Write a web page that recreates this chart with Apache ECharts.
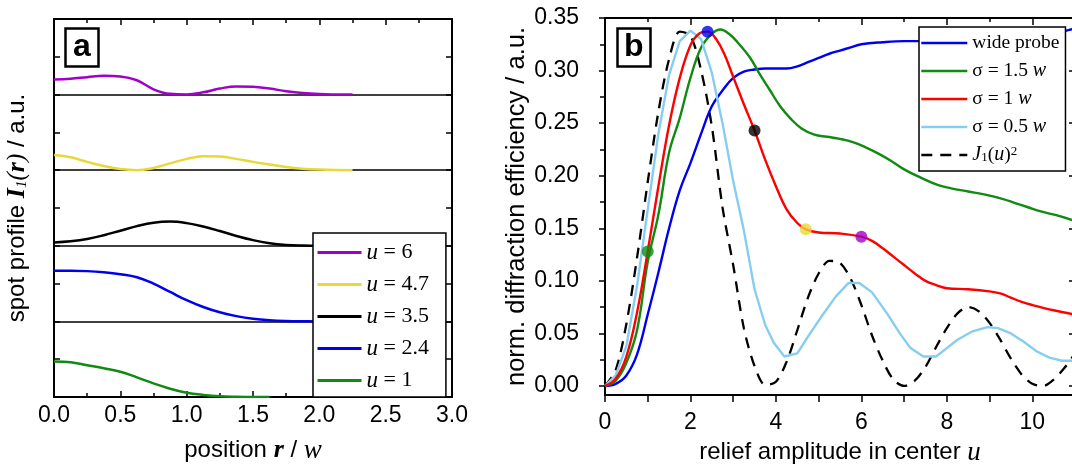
<!DOCTYPE html>
<html lang="en">
<head>
<meta charset="UTF-8">
<title>spot profile and diffraction efficiency</title>
<script src="https://cdn.jsdelivr.net/npm/echarts@6/dist/echarts.min.js"></script>
<style>
    html, body { margin: 0; padding: 0; background: #fff; }
    #chart { width: 1072px; height: 470px; }
</style>
</head>
<body>
<div id="chart"></div>
<script>
// ---- panel a : spot profiles, one band per relief amplitude ----
var rPos = [0, 0.125, 0.25, 0.375, 0.5, 0.625, 0.75, 0.875, 1, 1.125, 1.25, 1.375, 1.5,
            1.625, 1.75, 1.875, 2, 2.125, 2.25, 2.375, 2.5, 2.625, 2.75, 2.875, 3];
var profU1  = [0.47, 0.46, 0.42, 0.38, 0.335, 0.26, 0.18, 0.11, 0.057, 0.028, 0.01, 0.003, 0, 0];
var profU24 = [0.67, 0.67, 0.665, 0.65, 0.625, 0.585, 0.5, 0.39, 0.28, 0.19, 0.12, 0.07, 0.035, 0.015, 0.005, 0.001, 0];
var profU35 = [0.045, 0.06, 0.09, 0.14, 0.2, 0.26, 0.305, 0.32, 0.3, 0.255, 0.195, 0.13, 0.075, 0.035, 0.012, 0.003, 0];
var profU47 = [0.2, 0.17, 0.11, 0.055, 0.015, 0, 0.03, 0.09, 0.15, 0.185, 0.18, 0.15, 0.11, 0.075, 0.042, 0.02, 0.008, 0.002, 0];
var profU6  = [0.2, 0.21, 0.23, 0.248, 0.24, 0.19, 0.07, 0.01, 0.002, 0.03, 0.08, 0.108, 0.105, 0.08, 0.045, 0.02, 0.007, 0.002, 0];
var bandNames  = ['u = 6', 'u = 4.7', 'u = 3.5', 'u = 2.4', 'u = 1'];
var bandColors = ['#a000c8', '#e8d83a', '#000000', '#0000f0', '#108a10'];

// ---- panel b : diffraction efficiency vs relief amplitude ----
var uWide = [0, 0.25, 0.5, 0.75, 1, 1.25, 1.5, 1.75, 2, 2.25, 2.5, 2.75, 3, 3.25, 3.5, 3.75, 4, 4.25,
             4.5, 4.75, 5, 5.25, 5.5, 5.75, 6, 6.5, 7, 7.5, 8, 8.5, 9, 9.5, 10, 10.4, 10.8, 11];
var vWide = [0, 0.002, 0.01, 0.03, 0.068, 0.108, 0.15, 0.186, 0.212, 0.24, 0.266, 0.281, 0.293, 0.299,
             0.301, 0.302, 0.302, 0.302, 0.304, 0.308, 0.312, 0.316, 0.319, 0.322, 0.325, 0.327, 0.328,
             0.328, 0.328, 0.328, 0.328, 0.329, 0.331, 0.334, 0.338, 0.34];

var uS15 = [0, 0.25, 0.5, 0.75, 1, 1.25, 1.5, 1.75, 2, 2.25, 2.5, 2.7, 2.9, 3.1, 3.4, 3.6, 3.85, 4.1,
            4.35, 4.6, 4.9, 5.2, 5.5, 5.8, 6.1, 6.4, 6.7, 7, 7.4, 7.8, 8.1, 8.5, 8.9, 9.3, 9.6, 9.9, 10.2, 10.6, 11];
var vS15 = [0, 0.005, 0.022, 0.053, 0.118, 0.163, 0.222, 0.255, 0.293, 0.322, 0.335, 0.339, 0.335, 0.327,
            0.312, 0.298, 0.282, 0.266, 0.254, 0.245, 0.239, 0.237, 0.235, 0.232, 0.227, 0.221, 0.214,
            0.206, 0.198, 0.191, 0.188, 0.185, 0.182, 0.178, 0.174, 0.17, 0.166, 0.162, 0.157];

var uS1 = [0, 0.25, 0.5, 0.75, 1, 1.25, 1.5, 1.75, 2, 2.2, 2.4, 2.6, 2.8, 3, 3.25, 3.5, 3.75, 4, 4.25,
           4.5, 4.7, 5, 5.5, 6, 6.25, 6.5, 6.75, 7, 7.25, 7.5, 7.75, 8, 8.5, 9, 9.25, 9.5, 9.75, 10, 10.5, 11];
var vS1 = [0, 0.007, 0.028, 0.07, 0.128, 0.19, 0.248, 0.293, 0.324, 0.335, 0.337, 0.33, 0.315, 0.294,
           0.268, 0.243, 0.215, 0.19, 0.168, 0.155, 0.149, 0.146, 0.145, 0.142, 0.138, 0.131, 0.123,
           0.115, 0.107, 0.1, 0.096, 0.093, 0.092, 0.09, 0.088, 0.084, 0.08, 0.077, 0.072, 0.068];

var uS05 = [0, 0.25, 0.5, 0.75, 1, 1.25, 1.5, 1.75, 2, 2.25, 2.5, 2.75, 3, 3.25, 3.5, 3.75, 3.95, 4.2,
            4.5, 4.8, 5.1, 5.4, 5.7, 5.95, 6.25, 6.6, 6.9, 7.15, 7.45, 7.75, 8, 8.25, 8.6, 8.95, 9.2,
            9.5, 9.8, 10.1, 10.4, 10.7, 11];
var vS05 = [0, 0.01, 0.038, 0.095, 0.168, 0.24, 0.296, 0.328, 0.338, 0.33, 0.298, 0.25, 0.195, 0.148,
            0.092, 0.058, 0.041, 0.028, 0.031, 0.05, 0.068, 0.085, 0.098, 0.098, 0.089, 0.069, 0.05,
            0.036, 0.028, 0.028, 0.036, 0.044, 0.052, 0.056, 0.055, 0.05, 0.042, 0.033, 0.027, 0.024, 0.024];

var uJ = [0, 0.25, 0.5, 0.75, 1, 1.25, 1.5, 1.75, 2, 2.25, 2.5, 2.75, 3, 3.25, 3.5, 3.75, 4, 4.25, 4.5,
          4.75, 5, 5.25, 5.5, 5.75, 6, 6.25, 6.5, 6.75, 7, 7.25, 7.5, 7.75, 8, 8.25, 8.5, 8.75, 9, 9.25,
          9.5, 9.75, 10, 10.25, 10.5, 10.75, 11];
var vJ = [0, 0.015, 0.059, 0.122, 0.194, 0.261, 0.311, 0.337, 0.333, 0.3, 0.247, 0.17, 0.115, 0.055,
          0.019, 0.001, 0.004, 0.023, 0.053, 0.084, 0.107, 0.119, 0.117, 0.102, 0.077, 0.048, 0.024,
          0.006, 0, 0.005, 0.018, 0.037, 0.055, 0.069, 0.075, 0.071, 0.06, 0.044, 0.026, 0.011, 0.002,
          0, 0.006, 0.017, 0.031];

// dots on the sigma = 1 w curve (same u as panel a)
var uMark = [1, 2.4, 3.5, 4.7, 6];
var vMark = [0.128, 0.337, 0.243, 0.149, 0.142];
var markColors = ['#108a10', '#0000f0', '#000000', '#e8d83a', '#a000c8'];

var yTicksB = [0, 0.05, 0.1, 0.15, 0.2, 0.25, 0.3, 0.35];
var yMinorB = [0.025, 0.075, 0.125, 0.175, 0.225, 0.275, 0.325];

var SANS = 'Liberation Sans';
var SERIF = 'Liberation Serif';

function pairs(xs, ys, off) {
    var out = [];
    for (var i = 0; i < ys.length; i++) out.push([xs[i], ys[i] + (off || 0)]);
    return out;
}

var axisLine = { onZero: false, lineStyle: { color: '#000', width: 2 } };
var tickStyle = { color: '#000', width: 1.5 };
var LABEL_SIZE = 23;
var NAME_SIZE = 24;

var richName = {
    bi: { fontFamily: SERIF, fontStyle: 'italic', fontWeight: 'bold', fontSize: 26, color: '#000' },
    i: { fontFamily: SERIF, fontStyle: 'italic', fontSize: 27, color: '#000' },
    ip: { fontFamily: SERIF, fontStyle: 'italic', fontSize: 25, color: '#000' },
    sub: { fontFamily: SERIF, fontStyle: 'italic', fontSize: 15, color: '#000', verticalAlign: 'bottom', lineHeight: 15 }
};
var richLeg = {
    i: { fontFamily: SERIF, fontStyle: 'italic', fontSize: 20, color: '#000', lineHeight: 19 },
    sub: { fontFamily: SERIF, fontSize: 13, color: '#000', verticalAlign: 'bottom', lineHeight: 9 },
    sup: { fontFamily: SERIF, fontSize: 13, color: '#000', verticalAlign: 'top', lineHeight: 9 }
};

var legendB = {
    'wide probe': 'wide probe',
    'σ = 1.5 w': 'σ = 1.5 {i|w}',
    'σ = 1 w': 'σ = 1 {i|w}',
    'σ = 0.5 w': 'σ = 0.5 {i|w}',
    'J1(u)^2': '{i|J}{sub|1}({i|u}){sup|2}'
};

var series = [];
var profs = [profU6, profU47, profU35, profU24, profU1];
profs.forEach(function (p, k) {
    var off = 4 - k;
    var s = {
        name: bandNames[k], type: 'line', xAxisIndex: 0, yAxisIndex: 0,
        data: pairs(rPos, p, off), smooth: 0.4, symbol: 'none',
        lineStyle: { color: bandColors[k], width: 2.5 }, itemStyle: { color: bandColors[k] }
    };
    if (off > 0) {
        // baseline of the band, kept under the legend box
        s.markLine = {
            silent: true, z: 3, symbol: ['none', 'none'], label: { show: false },
            lineStyle: { color: '#000', width: 1.6, type: 'solid' },
            data: [{ yAxis: off }]
        };
    }
    series.push(s);
});

function lineB(name, xs, ys, color, extra) {
    var s = {
        name: name, type: 'line', xAxisIndex: 2, yAxisIndex: 2,
        data: pairs(xs, ys), smooth: 0.4, symbol: 'none',
        lineStyle: { color: color, width: 2.4 }, itemStyle: { color: color }
    };
    for (var k in extra) s[k] = extra[k];
    return s;
}
series.push(lineB('J1(u)^2', uJ, vJ, '#000', { lineStyle: { color: '#000', width: 2.3, type: [11, 8] }, smooth: 0.3 }));
series.push(lineB('wide probe', uWide, vWide, '#0000f0'));
series.push(lineB('σ = 1.5 w', uS15, vS15, '#108a10'));
series.push(lineB('σ = 0.5 w', uS05, vS05, '#87cdf0', { smooth: false }));
series.push(lineB('σ = 1 w', uS1, vS1, '#ff0000'));
series.push({
    name: 'marks', type: 'scatter', xAxisIndex: 2, yAxisIndex: 2, symbolSize: 12, z: 5,
    data: uMark.map(function (u, i) { return { value: [u, vMark[i]], itemStyle: { color: markColors[i] } }; })
});

var option = {
    animation: false,
    backgroundColor: '#fff',
    title: [
        { text: 'a', left: 65, top: 28, padding: [2, 8, 2, 8], borderColor: '#000', borderWidth: 2.5,
          textStyle: { fontSize: 32, fontWeight: 'bold', fontFamily: SANS, color: '#000', lineHeight: 35 } },
        { text: 'b', left: 617, top: 28, padding: [2, 7, 2, 7], borderColor: '#000', borderWidth: 2.5,
          textStyle: { fontSize: 32, fontWeight: 'bold', fontFamily: SANS, color: '#000', lineHeight: 35 } }
    ],
    grid: [
        { left: 54, top: 19, width: 398, height: 378, outerBoundsMode: 'none' },
        { left: 605, top: 18, width: 470, height: 377, outerBoundsMode: 'none' }
    ],
    legend: [
        {
            data: bandNames, orient: 'vertical', left: 313, top: 233, z: 6,
            itemWidth: 44, itemHeight: 14, itemGap: 9, padding: [8, 17, 5, 3],
            backgroundColor: '#fff', borderColor: '#000', borderWidth: 1.5,
            itemStyle: { opacity: 0 }, lineStyle: { width: 3 },
            formatter: function (n) { return '{i|u} = ' + n.split('= ')[1]; },
            textStyle: { fontFamily: SERIF, fontSize: 22, color: '#000', lineHeight: 22,
                         rich: { i: { fontFamily: SERIF, fontStyle: 'italic', fontSize: 23, color: '#000', lineHeight: 22 } } }
        },
        {
            data: ['wide probe', 'σ = 1.5 w', 'σ = 1 w', 'σ = 0.5 w', 'J1(u)^2'],
            orient: 'vertical', left: 919, top: 27, z: 6,
            itemWidth: 46, itemHeight: 14, itemGap: 8, padding: [6, 6, 6, 1],
            backgroundColor: '#fff', borderColor: '#000', borderWidth: 1.5,
            itemStyle: { opacity: 0 }, lineStyle: { width: 2.6 },
            formatter: function (n) { return legendB[n]; },
            textStyle: { fontFamily: SERIF, fontSize: 19.5, color: '#000', lineHeight: 19, rich: richLeg }
        }
    ],
    xAxis: [
        {
            gridIndex: 0, type: 'value', position: 'bottom', min: 0, max: 3, interval: 0.5,
            axisLine: axisLine, splitLine: { show: false },
            axisTick: { inside: true, length: 6, lineStyle: tickStyle },
            minorTick: { show: true, splitNumber: 2, length: 4, lineStyle: tickStyle },
            axisLabel: { color: '#000', fontSize: LABEL_SIZE, fontFamily: SANS, margin: 7, formatter: function (v) { return v.toFixed(1); } },
            name: 'position {bi|r} / {i|w}', nameLocation: 'middle', nameGap: 40,
            nameTextStyle: { fontSize: NAME_SIZE, fontFamily: SANS, color: '#000', rich: richName }
        },
        {
            gridIndex: 0, type: 'value', position: 'top', min: 0, max: 3, interval: 0.5,
            axisLine: axisLine, splitLine: { show: false }, axisLabel: { show: false },
            axisTick: { inside: true, length: 6, lineStyle: tickStyle },
            minorTick: { show: true, splitNumber: 2, length: 4, lineStyle: tickStyle }
        },
        {
            gridIndex: 1, type: 'value', position: 'bottom', min: 0, max: 11, interval: 2,
            axisLine: axisLine, splitLine: { show: false },
            axisTick: { inside: false, length: 7, lineStyle: tickStyle },
            minorTick: { show: true, splitNumber: 2, length: 7, lineStyle: tickStyle },
            axisLabel: { color: '#000', fontSize: LABEL_SIZE, fontFamily: SANS, margin: 16, formatter: function (v) { return v > 10.5 ? '' : String(v); } },
            name: 'relief amplitude in center {i|u}', nameLocation: 'middle', nameGap: 44,
            nameTextStyle: { fontSize: NAME_SIZE, fontFamily: SANS, color: '#000', rich: richName }
        },
        {
            gridIndex: 1, type: 'value', position: 'top', min: 0, max: 11, interval: 2,
            axisLine: axisLine, splitLine: { show: false }, axisLabel: { show: false },
            axisTick: { inside: true, length: 7, lineStyle: tickStyle },
            minorTick: { show: true, splitNumber: 2, length: 4, lineStyle: tickStyle }
        }
    ],
    yAxis: [
        {
            gridIndex: 0, type: 'value', position: 'left', min: 0, max: 5, interval: 0.5,
            axisLine: axisLine, splitLine: { show: false }, axisLabel: { show: false },
            axisTick: { inside: true, length: 6, lineStyle: tickStyle },
            name: 'spot profile {bi|I}{sub|1}{ip|(}{bi|r}{ip|)} / a.u.', nameLocation: 'middle', nameGap: 24,
            nameTextStyle: { fontSize: NAME_SIZE, fontFamily: SANS, color: '#000', rich: richName }
        },
        {
            gridIndex: 0, type: 'value', position: 'right', min: 0, max: 5, interval: 0.5,
            axisLine: axisLine, splitLine: { show: false }, axisLabel: { show: false },
            axisTick: { inside: true, length: 6, lineStyle: tickStyle }
        },
        {
            gridIndex: 1, type: 'value', position: 'left', min: -0.0086, max: 0.35,
            axisLine: axisLine, splitLine: { show: false },
            axisTick: { inside: false, length: 6, lineStyle: tickStyle, customValues: yTicksB },
            axisLabel: { color: '#000', fontSize: LABEL_SIZE, fontFamily: SANS, margin: 26, customValues: yTicksB, formatter: function (v) { return v.toFixed(2); } },
            name: 'norm. diffraction efficiency / a.u.', nameLocation: 'middle', nameGap: 71,
            nameTextStyle: { fontSize: 25.5, fontFamily: SANS, color: '#000' }
        },
        {
            gridIndex: 1, type: 'value', position: 'left', min: -0.0086, max: 0.35,
            axisLine: { show: false, onZero: false }, splitLine: { show: false }, axisLabel: { show: false },
            axisTick: { inside: false, length: 5, lineStyle: tickStyle, customValues: yMinorB }
        },
        {
            gridIndex: 1, type: 'value', position: 'right', min: -0.0086, max: 0.35,
            axisLine: axisLine, splitLine: { show: false }, axisLabel: { show: false },
            axisTick: { inside: true, length: 6, lineStyle: tickStyle, customValues: yTicksB }
        }
    ],
    series: series
};

var chart = echarts.init(document.getElementById('chart'));
chart.setOption(option);
</script>
</body>
</html>
